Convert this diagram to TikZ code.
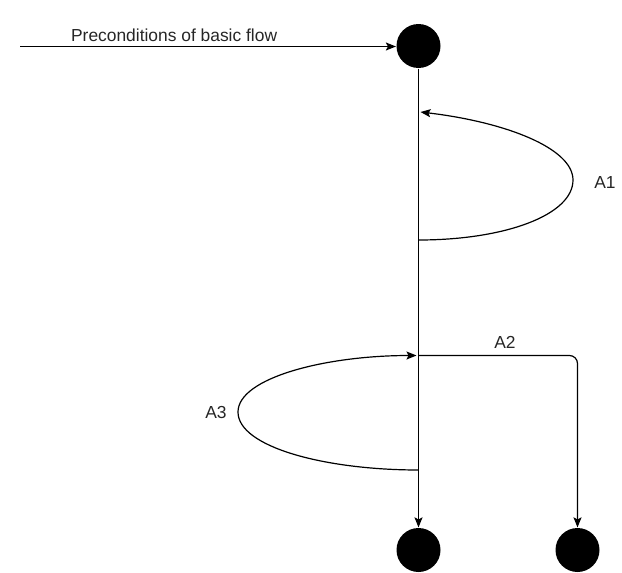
\documentclass[tikz,border=0pt]{standalone}
\usepackage{fontspec}
\setmainfont{Liberation Sans}
\usepackage{tikz}
\usetikzlibrary{arrows.meta}

\begin{document}
\begin{tikzpicture}[x=1pt, y=-1pt, line width=1.2pt,
    >={Stealth[length=10pt,width=8pt,inset=2pt]},
    dot/.style={circle, fill=black, inner sep=0pt, minimum size=44pt},
    lbl/.style={font=\fontsize{17.4}{19}\selectfont, text=black!85, inner sep=1pt}]
  \useasboundingbox (0,0) rectangle (622,573);
  % start and end points
  \node[dot] (start) at (418.5,46) {};
  \node[dot] (endA) at (418.5,550) {};
  \node[dot] (endB) at (577.5,550) {};
  \coordinate (in) at (20,46.5);
  \coordinate (a1out) at (418.5,240);
  \coordinate (a1in) at (420.5,112);
  \coordinate (fork) at (418.5,355.5);
  \coordinate (a3out) at (418.5,470);
  \coordinate (a3in) at (416.5,355.5);
  % basic flow
  \draw[->] (in) -- (start.west |- in) node[lbl, pos=0.41, above=3pt] {Preconditions of basic flow};
  \draw[->] (start) -- (endA);
  % A1
  \draw[->] (a1out) .. controls (505,240) and (573,215) .. (573,180)
    .. controls (573,148) and (505,122) .. (a1in);
  \node[lbl] (A1) at (605,183) {A1};
  % A2
  \draw[->, rounded corners=8pt] (fork) -| (endB);
  \node[lbl] (A2) at (505,342) {A2};
  % A3
  \draw[->] (a3out) .. controls (325,470) and (238,447) .. (238,412)
    .. controls (238,378) and (325,355.5) .. (a3in);
  \node[lbl] (A3) at (216,413) {A3};
\end{tikzpicture}
\end{document}
